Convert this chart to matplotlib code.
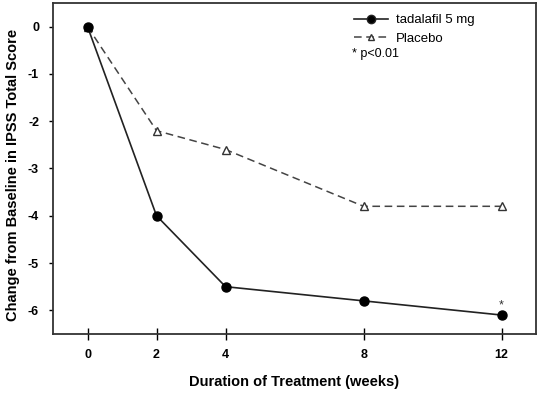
import matplotlib.pyplot as plt
from matplotlib.lines import Line2D

weeks = [0, 2, 4, 8, 12]
tadalafil = [0, -4.0, -5.5, -5.8, -6.1]
placebo = [0, -2.2, -2.6, -3.8, -3.8]
yticks = [0, -1, -2, -3, -4, -5, -6]

plt.rcParams['font.family'] = ['Liberation Sans', 'DejaVu Sans']
plt.rcParams['axes.unicode_minus'] = False

fig = plt.figure(figsize=(5.55, 3.99), dpi=100)
ax = fig.add_axes([0.0955, 0.163, 0.8705, 0.8295])

ax.plot(weeks, placebo, color='#444444', ls=(0, (5, 3)), lw=1.1,
        marker='^', ms=6, mfc='white', mec='#333333', mew=1)
ax.plot(weeks, tadalafil, color='#222222', lw=1.2,
        marker='o', ms=6.5, mfc='black', mec='black')

ax.text(weeks[-1], tadalafil[-1] + 0.07, '*', ha='center', va='bottom', fontsize=9, color='#333333')

ax.set_xlim(-1, 13)
ax.set_ylim(-6.5, 0.5)
ax.set_xticks(weeks)
ax.set_yticks(yticks)
ax.tick_params(axis='x', direction='inout', length=9, width=1, labelsize=9, pad=6)
ax.tick_params(axis='y', direction='out', length=3, width=1, labelsize=9, pad=7)
for lab in ax.get_xticklabels() + ax.get_yticklabels():
    lab.set_fontweight('bold')
for s in ax.spines.values():
    s.set_linewidth(1.3)
    s.set_color('#333333')

fig.text(294 / 555, 1 - 382 / 399, 'Duration of Treatment (weeks)', fontsize=10.5,
         fontweight='bold', ha='center', va='center')
fig.text(13 / 555, 1 - 175 / 399, 'Change from Baseline in IPSS Total Score', fontsize=10.5,
         fontweight='bold', ha='center', va='center', rotation=90)

handles = [Line2D([], [], color='#222222', lw=1.2, marker='o', ms=6, mfc='black'),
           Line2D([], [], color='#444444', lw=1.1, ls=(0, (5, 3)), marker='^', ms=5,
                  mfc='white', mec='#333333')]
leg = ax.legend(handles, ['tadalafil 5 mg', 'Placebo'], loc='upper left',
                bbox_to_anchor=(0.598, 1.002), frameon=False, fontsize=9.5,
                handlelength=2.6, handletextpad=0.6, labelspacing=0.45)
ax.text(0.619, 0.845, '* p<0.01', transform=ax.transAxes, fontsize=9, va='center')

fig.savefig('out.png', dpi=100)
